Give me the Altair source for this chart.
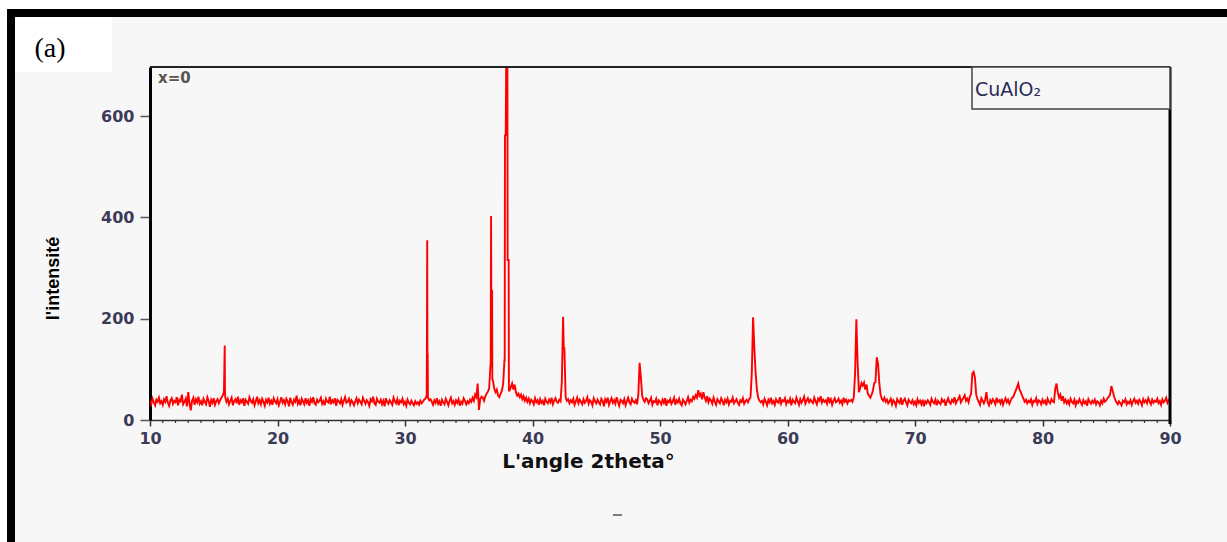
import altair as alt
import pandas as pd

# XRD scan of CuAlO2 (x=0): counts on a 0.1 degree grid from 10 to 90 deg 2theta
scan_start = 10.0
scan_step = 0.1
scan_counts = [
    38, 31, 42, 35, 29, 40, 36, 44, 33, 37,   # 10
    30, 41, 36, 47, 34, 28, 39, 43, 32, 38,   # 11
    35, 45, 29, 40, 37, 50, 31, 36, 42, 27,   # 12
    55, 33, 19, 38, 44, 30, 41, 35, 46, 32,   # 13
    37, 29, 42, 36, 31, 45, 38, 26, 40, 34,   # 14
    43, 30, 37, 41, 33, 39, 44, 48, 55, 45,   # 15
    36, 42, 31, 38, 44, 29, 37, 41, 33, 46,   # 16
    30, 39, 35, 43, 28, 40, 36, 32, 45, 38,   # 17
    34, 41, 29, 37, 46, 33, 39, 31, 42, 36,   # 18
    28, 40, 35, 44, 32, 38, 30, 43, 37, 33,   # 19
    41, 29, 36, 45, 34, 39, 31, 42, 37, 27,   # 20
    44, 35, 30, 40, 36, 48, 32, 38, 29, 42,   # 21
    37, 31, 43, 34, 39, 28, 41, 36, 45, 33,   # 22
    30, 40, 35, 38, 44, 32, 37, 29, 42, 36,   # 23
    34, 46, 31, 39, 35, 43, 28, 40, 37, 33,   # 24
    41, 30, 38, 45, 34, 36, 42, 31, 39, 35,   # 25
    29, 37, 43, 33, 40, 36, 31, 44, 38, 32,   # 26
    39, 35, 28, 41, 37, 46, 33, 30, 42, 36,   # 27
    34, 40, 31, 38, 27, 43, 36, 32, 39, 35,   # 28
    30, 44, 37, 33, 41, 29, 38, 35, 42, 31,   # 29
    36, 28, 40, 34, 31, 38, 33, 29, 37, 32,   # 30
    35, 30, 38, 33, 36, 40, 42, 48, 44, 39,   # 31
    41, 36, 30, 39, 34, 43, 32, 37, 28, 40,   # 32
    35, 31, 42, 36, 29, 38, 44, 33, 37, 30,   # 33
    39, 34, 41, 28, 36, 32, 43, 38, 31, 37,   # 34
    33, 40, 36, 44, 38, 50, 45, 72, 20, 41,   # 35
    46, 44, 38, 47, 52, 56, 62, 108, 255, 78, # 36
    62, 55, 60, 48, 45, 52, 58, 72, 118, 562, # 37
    760, 316, 58, 65, 72, 60, 70, 55, 48, 52, # 38
    45, 50, 41, 47, 38, 44, 36, 42, 33, 40,   # 39
    37, 31, 43, 35, 39, 30, 41, 34, 38, 29,   # 40
    42, 36, 33, 40, 35, 44, 31, 38, 43, 36,   # 41
    34, 40, 37, 75, 204, 142, 45, 38, 41, 33, # 42
    39, 35, 42, 30, 37, 44, 33, 40, 36, 31,   # 43
    41, 34, 38, 45, 32, 39, 36, 29, 43, 37,   # 44
    33, 40, 35, 31, 42, 38, 27, 41, 36, 44,   # 45
    30, 37, 43, 34, 39, 32, 45, 36, 28, 40,   # 46
    38, 33, 41, 29, 37, 44, 35, 31, 42, 36,   # 47
    34, 39, 31, 50, 113, 85, 48, 40, 36, 43,  # 48
    41, 33, 38, 44, 30, 37, 35, 42, 29, 39,   # 49
    36, 31, 40, 34, 43, 28, 38, 35, 41, 32,   # 50
    37, 44, 30, 39, 35, 42, 33, 29, 40, 36,   # 51
    31, 38, 45, 34, 40, 37, 46, 42, 49, 44,   # 52
    59, 48, 52, 41, 55, 45, 38, 47, 35, 42,   # 53
    39, 32, 44, 36, 30, 41, 37, 33, 43, 38,   # 54
    29, 40, 35, 42, 31, 38, 36, 44, 33, 37,   # 55
    41, 34, 30, 39, 36, 43, 32, 37, 40, 35,   # 56
    41, 45, 93, 203, 141, 93, 60, 44, 38, 35, # 57
    38, 31, 42, 36, 29, 40, 35, 44, 33, 37,   # 58
    30, 41, 36, 34, 45, 32, 39, 37, 43, 31,   # 59
    38, 35, 42, 29, 40, 36, 33, 44, 37, 30,   # 60
    41, 34, 39, 46, 32, 38, 43, 35, 40, 36,   # 61
    33, 44, 37, 31, 42, 38, 47, 34, 40, 36,   # 62
    39, 32, 45, 36, 41, 30, 38, 43, 35, 37,   # 63
    42, 34, 38, 31, 44, 36, 40, 33, 39, 37,   # 64
    40, 36, 45, 92, 199, 112, 55, 62, 73, 68, # 65
    74, 60, 70, 52, 48, 44, 50, 58, 73, 75,   # 66
    124, 112, 73, 50, 42, 38, 44, 36, 40, 33, # 67
    37, 42, 31, 39, 35, 28, 41, 36, 33, 44,   # 68
    30, 38, 42, 35, 29, 40, 36, 33, 39, 31,   # 69
    36, 29, 41, 34, 38, 31, 40, 27, 37, 33,   # 70
    39, 35, 30, 42, 36, 33, 40, 29, 38, 34,   # 71
    31, 41, 36, 39, 28, 37, 43, 35, 32, 40,   # 72
    36, 45, 33, 38, 42, 47, 35, 40, 44, 49,   # 73
    38, 42, 35, 46, 52, 92, 95, 84, 50, 41,   # 74
    36, 30, 43, 38, 33, 40, 55, 35, 29, 39,   # 75
    34, 41, 37, 31, 44, 36, 39, 33, 42, 30,   # 76
    37, 43, 35, 40, 32, 38, 44, 45, 52, 58,   # 77
    65, 72, 60, 55, 48, 42, 36, 40, 33, 38,   # 78
    35, 41, 30, 38, 36, 43, 32, 39, 37, 31,   # 79
    40, 34, 38, 29, 42, 36, 33, 41, 37, 35,   # 80
    62, 72, 55, 44, 50, 38, 47, 35, 40, 33,   # 81
    38, 31, 42, 36, 33, 40, 29, 37, 34, 41,   # 82
    35, 30, 39, 33, 37, 28, 41, 36, 32, 38,   # 83
    34, 40, 31, 37, 35, 29, 38, 33, 42, 36,   # 84
    39, 43, 46, 50, 67, 58, 48, 40, 35, 31,   # 85
    37, 33, 29, 38, 35, 41, 31, 36, 33, 39,   # 86
    30, 37, 42, 34, 38, 32, 40, 36, 29, 41,   # 87
    35, 39, 33, 43, 37, 31, 40, 34, 38, 36,   # 88
    42, 33, 37, 30, 41, 35, 38, 44, 34, 39,   # 89
    36,                                       # 90
]

# finer samples across the sharp reflections
peak_angles = [15.86, 15.88, 31.72, 31.74, 31.76, 31.78, 36.72, 36.75, 36.77,
               36.83, 36.85, 37.82, 37.84, 37.95, 38.03, 38.05, 38.13, 38.15, 42.45]
peak_counts = [147, 60, 150, 355, 130, 130, 110, 403, 255,
               255, 80, 118, 562, 760, 760, 316, 316, 58, 142]

x_ticks = [10, 20, 30, 40, 50, 60, 70, 80, 90]
x_minor_ticks = [a for a in range(11, 90) if a % 10 != 0]
y_ticks = [0, 200, 400, 600]
x_range = [10, 90]
y_range = [0, 697]

scan_angles = [round(scan_start + i * scan_step, 2) for i in range(len(scan_counts))]
df = pd.DataFrame({
    "angle": scan_angles + peak_angles,
    "counts": scan_counts + peak_counts,
}).sort_values("angle")

W, H = 1020, 353
PAD = {"left": 150, "top": 67, "right": 57, "bottom": 122}
BG = "#f7f7f7"
LABEL_COLOR = "#3b3b58"

one = pd.DataFrame({"k": [0]})
deco = alt.Chart(one)

x_scale = alt.Scale(domain=x_range, nice=False, zero=False)
y_scale = alt.Scale(domain=y_range, nice=False)

x_axis = alt.Axis(
    values=x_ticks, format="d", grid=False,
    tickSize=6, tickWidth=1.5, tickColor="#333",
    domainColor="#333", domainWidth=1.5,
    labelFont="DejaVu Sans", labelFontSize=16, labelFontWeight="bold",
    labelColor=LABEL_COLOR, labelPadding=4, labelFlush=False, labelOverlap=False,
    title="L'angle 2theta°", titleFont="DejaVu Sans", titleFontSize=20,
    titleFontWeight="bold", titleColor="#111",
    titleX=438, titleY=47, titleAlign="center", titleBaseline="alphabetic",
)
y_axis = alt.Axis(
    values=y_ticks, format="d", grid=False,
    tickSize=10, tickWidth=1.5, tickColor="#555",
    domainColor="#000", domainWidth=3,
    labelFont="DejaVu Sans", labelFontSize=16, labelFontWeight="bold",
    labelColor=LABEL_COLOR, labelPadding=6,
    title="l'intensité",
    titleFont="Liberation Sans",
    titleFontSize=18, titleFontWeight="bold", titleColor="#000",
    titleAngle=270, titleX=-97, titleY=211, titleAlign="center", titleBaseline="middle",
)

# page background strips and the heavy frame on the top and left
white_top = deco.mark_rect(color="white").encode(
    x=alt.value(-150), x2=alt.value(1077), y=alt.value(-67), y2=alt.value(-58))
white_left = deco.mark_rect(color="white").encode(
    x=alt.value(-150), x2=alt.value(-143), y=alt.value(-67), y2=alt.value(475))
frame_top = deco.mark_rect(color="black").encode(
    x=alt.value(-143), x2=alt.value(1077), y=alt.value(-58), y2=alt.value(-50))
frame_left = deco.mark_rect(color="black").encode(
    x=alt.value(-143), x2=alt.value(-135), y=alt.value(-58), y2=alt.value(475))

# panel tag
tag_box = deco.mark_rect(color="white").encode(
    x=alt.value(-135), x2=alt.value(-38), y=alt.value(-50), y2=alt.value(5))
tag_text = deco.mark_text(font="Liberation Serif", fontSize=28, color="#000",
                          align="center", baseline="middle").encode(
    x=alt.value(-100), y=alt.value(-18), text=alt.value("(a)"))

# diffraction pattern
pattern = alt.Chart(df).mark_line(color="#ff0000", strokeWidth=1.9, clip=True).encode(
    x=alt.X("angle:Q", scale=x_scale, axis=x_axis),
    y=alt.Y("counts:Q", scale=y_scale, axis=y_axis),
)

# minor ticks along the angle axis
minor = alt.Chart(pd.DataFrame({"angle": x_minor_ticks})).mark_rule(
    color="#333", strokeWidth=1.2).encode(
    x=alt.X("angle:Q", scale=x_scale), y=alt.value(H), y2=alt.value(H + 3))

# plot box: top edge and right edge
box_top = deco.mark_rule(color="#222", strokeWidth=2).encode(
    x=alt.value(0), x2=alt.value(W), y=alt.value(0))
box_right = deco.mark_rule(color="#000", strokeWidth=3).encode(
    x=alt.value(W), y=alt.value(0), y2=alt.value(H + 4))

# sample label and legend
sample = deco.mark_text(font="DejaVu Sans", fontSize=15, fontWeight="bold",
                        color="#5a5550", align="left", baseline="middle").encode(
    x=alt.value(8), y=alt.value(11), text=alt.value("x=0"))
legend_box = deco.mark_rect(fill=BG, stroke="#444", strokeWidth=1.5).encode(
    x=alt.value(822), x2=alt.value(W), y=alt.value(0), y2=alt.value(42))
legend_text = deco.mark_text(font="DejaVu Sans", fontSize=19, color="#2b2b55",
                             align="left", baseline="middle").encode(
    x=alt.value(825), y=alt.value(23), text=alt.value("CuAlO₂"))

dash = deco.mark_rule(color="#555", strokeWidth=1.5).encode(
    x=alt.value(463), x2=alt.value(472), y=alt.value(448))

chart = alt.layer(
    white_top, white_left, frame_top, frame_left, tag_box, tag_text,
    pattern, minor, box_top, box_right, legend_box, legend_text, sample, dash,
).properties(
    width=W, height=H,
    background=BG,
    padding=PAD,
    autosize=alt.AutoSizeParams(type="none"),
).configure_view(stroke=None)

chart.save("out.html", embed_options={"renderer": "svg", "actions": False})
